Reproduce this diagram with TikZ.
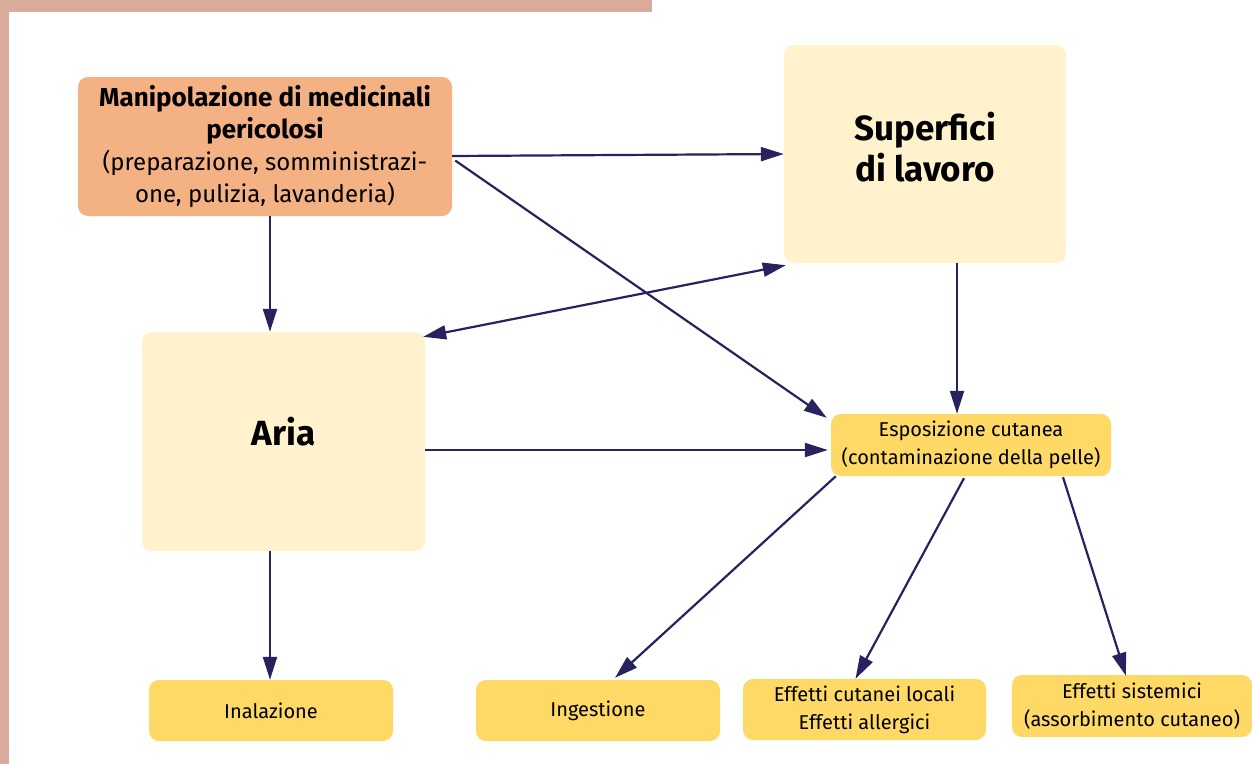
\documentclass[tikz,border=0pt]{standalone}
\usepackage{fontspec}
\setmainfont{Fira Sans}
\usetikzlibrary{arrows.meta}
\definecolor{brd}{HTML}{D9AB9B}
\definecolor{orangebox}{HTML}{F4B184}
\definecolor{lightbox}{HTML}{FFF2CC}
\definecolor{yellowbox}{HTML}{FED966}
\definecolor{navy}{HTML}{26235E}
\tikzset{
  box/.style={rounded corners=10pt, inner sep=0pt, align=center, text=black},
  bigbox/.style={box, fill=lightbox},
  bigtext/.style={align=center, inner sep=0pt, font=\fontsize{35}{41}\selectfont\bfseries},
  smallbox/.style={box, fill=yellowbox, font=\fontsize{20}{28}\selectfont},
  conn/.style={draw=navy, line width=2.2pt, -{Triangle[length=23pt,width=14pt]}},
  dconn/.style={draw=navy, line width=2.2pt, {Triangle[length=23pt,width=14pt]}-{Triangle[length=23pt,width=14pt]}},
}
\begin{document}
\begin{tikzpicture}[x=1pt,y=-1pt]
\useasboundingbox (0,0) rectangle (1252,764);
\fill[white] (0,0) rectangle (1252,764);
\fill[brd] (0,0) rectangle (652,12);
\fill[brd] (0,0) rectangle (9,764);

\node[box, fill=orangebox, minimum width=374pt, minimum height=139pt, font=\fontsize{24}{32}\selectfont] (manip) at (265,146.5)
  {{\fontsize{26}{32}\selectfont\bfseries Manipolazione di medicinali}\\{\fontsize{26}{32}\selectfont\bfseries pericolosi}\\(preparazione, somministrazi-\\one, pulizia, lavanderia)};
\node[bigbox, minimum width=282pt, minimum height=218pt] (sup) at (925,154) {};
\node[bigtext] (suptext) at (925,147) {Superfici\\di lavoro};
\node[bigbox, minimum width=283pt, minimum height=219pt] (aria) at (283.5,441.5) {};
\node[bigtext] (ariatext) at (283.5,432) {Aria};
\node[smallbox, minimum width=280pt, minimum height=62pt] (espo) at (971,445) {Esposizione cutanea\\(contaminazione della pelle)};
\node[smallbox, minimum width=244pt, minimum height=61pt] (inal) at (271,710.5) {Inalazione};
\node[smallbox, minimum width=244pt, minimum height=61pt] (inge) at (598,710.5) {Ingestione};
\node[smallbox, minimum width=243pt, minimum height=61pt] (cuta) at (864.5,709.5) {Effetti cutanei locali\\Effetti allergici};
\node[smallbox, minimum width=240pt, minimum height=62pt] (sist) at (1132,706) {Effetti sistemici\\(assorbimento cutaneo)};

\draw[conn] ([yshift=-9.5pt]manip.east) -- (sup.west);
\draw[conn] ([xshift=3pt,yshift=-14pt]manip.east) -- ([xshift=-4pt,yshift=-4pt]espo.north west);
\draw[conn] ([xshift=5pt]manip.south) -- ([xshift=-13.5pt]aria.north);
\draw[dconn] ([xshift=2pt,yshift=-2pt]sup.south west) -- ([xshift=-2pt,yshift=-5pt]aria.north east);
\draw[conn] ([xshift=32pt]sup.south) -- ([xshift=-14pt]espo.north);
\draw[conn] ([yshift=-8.5pt]aria.east) -- ([xshift=-3pt,yshift=-5pt]espo.west);
\draw[conn] ([xshift=-13.5pt]aria.south) -- ([xshift=-1pt]inal.north);
\draw[conn] ([xshift=5pt]espo.south west) -- ([xshift=17pt,yshift=2pt]inge.north);
\draw[conn] ([xshift=-7pt,yshift=-2pt]espo.south) -- ([xshift=-9pt]cuta.north);
\draw[conn] ([xshift=92pt,yshift=-1pt]espo.south) -- ([xshift=-6pt,yshift=-1pt]sist.north);
\end{tikzpicture}
\end{document}
